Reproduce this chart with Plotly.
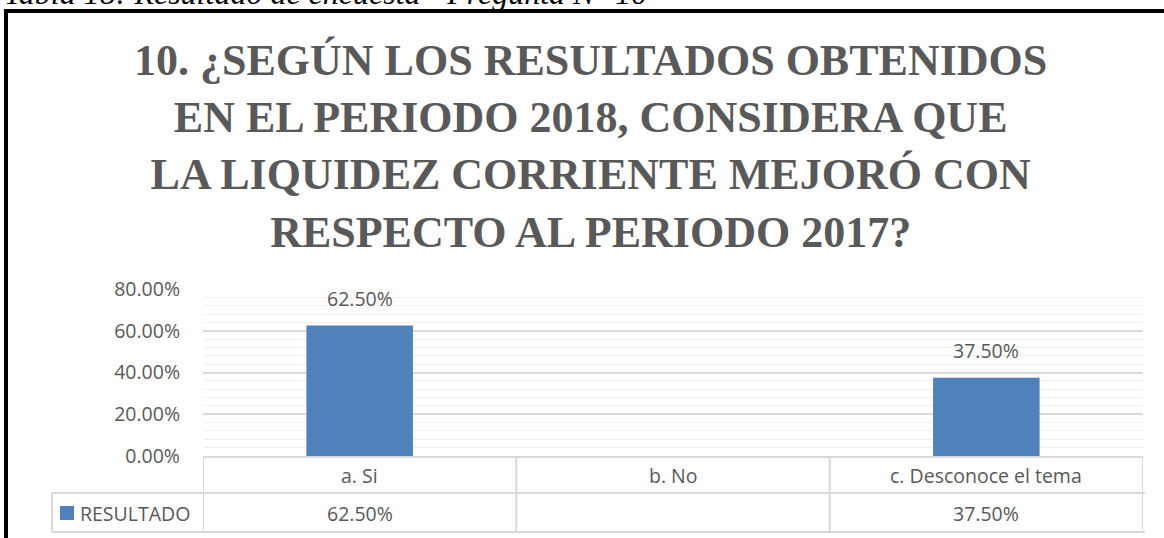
import plotly.graph_objects as go

# ---- data ----
categories = ["a. Si", "b. No", "c. Desconoce el tema"]
values = [0.625, None, 0.375]
series_name = "RESULTADO"
title_lines = [
    "10. ¿SEGÚN LOS RESULTADOS OBTENIDOS",
    "EN EL PERIODO 2018, CONSIDERA QUE",
    "LA LIQUIDEZ CORRIENTE MEJORÓ CON",
    "RESPECTO AL PERIODO 2017?",
]
caption = "Tabla 18: Resultado de encuesta - Pregunta N° 10"
y_ticks = [0, 0.2, 0.4, 0.6, 0.8]

# ---- layout geometry ----
W, H = 1164, 538
L, R, T, B = 203, 21, 289, 82
PW, PH = W - L - R, H - T - B


def xp(px):
    return (px - L) / PW


def yp(py):
    return (H - B - py) / PH


BAR = "#4F81BD"
GREY = "#595959"
TBL = "#d9d9d9"
FONT = "Open Sans"
FS = 19.5

fig = go.Figure()
fig.add_trace(go.Bar(
    x=categories,
    y=[v if v is not None else 0 for v in values],
    name=series_name,
    marker=dict(color=BAR, line=dict(width=0)),
    showlegend=False,
    hoverinfo="skip",
))

ann = []
# data labels above bars
for c, v in zip(categories, values):
    if v is not None:
        ann.append(dict(x=c, y=v, xref="x", yref="y", text=f"{v*100:.2f}%",
                        showarrow=False, yanchor="bottom", yshift=12,
                        font=dict(family=FONT, size=FS, color=GREY)))
# table: category row and values row
for c, v in zip(categories, values):
    ann.append(dict(x=c, y=yp(475), xref="x", yref="paper", text=c,
                    showarrow=False, yanchor="middle",
                    font=dict(family=FONT, size=FS, color=GREY)))
    ann.append(dict(x=c, y=yp(513), xref="x", yref="paper",
                    text=(f"{v*100:.2f}%" if v is not None else ""),
                    showarrow=False, yanchor="middle",
                    font=dict(family=FONT, size=FS, color=GREY)))
# legend label in table
ann.append(dict(x=xp(78), y=yp(513), xref="paper", yref="paper", text=series_name,
                showarrow=False, xanchor="left", yanchor="middle",
                font=dict(family=FONT, size=FS, color=GREY)))
# title
ann.append(dict(x=xp(590), y=yp(34), xref="paper", yref="paper",
                text="<br>".join(title_lines), showarrow=False,
                xanchor="center", yanchor="top", align="center",
                font=dict(family="Liberation Serif", size=44, color=GREY, weight="bold")))
# caption (cut off at top)
ann.append(dict(x=xp(2), y=yp(13), xref="paper", yref="paper", text=f"<i>{caption}</i>",
                showarrow=False, xanchor="left", yanchor="bottom",
                font=dict(family="Liberation Serif", size=32, color="#000000")))

shapes = []
# chart border
shapes.append(dict(type="rect", xref="paper", yref="paper",
                   x0=xp(6), x1=xp(1200), y0=yp(11), y1=yp(600),
                   line=dict(color="#000000", width=4), layer="above"))
# table horizontal lines
shapes.append(dict(type="line", xref="x", yref="paper", x0=-0.5, x1=2.5,
                   y0=yp(457), y1=yp(457), line=dict(color=TBL, width=2)))
for py in (493, 532):
    shapes.append(dict(type="line", xref="paper", yref="paper", x0=xp(52), x1=xp(1145),
                       y0=yp(py), y1=yp(py), line=dict(color=TBL, width=2)))
# table vertical lines
shapes.append(dict(type="line", xref="paper", yref="paper", x0=xp(52), x1=xp(52),
                   y0=yp(493), y1=yp(532), line=dict(color=TBL, width=2)))
for i in range(len(categories) + 1):
    shapes.append(dict(type="line", xref="x", yref="paper", x0=i - 0.5, x1=i - 0.5,
                       y0=yp(457), y1=yp(532), line=dict(color=TBL, width=2)))
# legend key
shapes.append(dict(type="rect", xref="paper", yref="paper", x0=xp(60), x1=xp(74),
                   y0=yp(506), y1=yp(520), fillcolor=BAR, line=dict(width=0)))

fig.update_layout(
    width=W, height=H,
    margin=dict(l=L, r=R, t=T, b=B, pad=0),
    paper_bgcolor="white", plot_bgcolor="white",
    bargap=0.66,
    hovermode=False,
    annotations=ann, shapes=shapes,
    xaxis=dict(range=[-0.5, 2.5], showticklabels=False, showgrid=False,
               zeroline=False, showline=False, ticks=""),
    yaxis=dict(range=[0, 0.8], tickvals=y_ticks, tickformat=".2%",
               showgrid=True, gridcolor=TBL, gridwidth=1.5,
               zeroline=False, showline=False, ticks="",
               ticklabelstandoff=22,
               tickfont=dict(family=FONT, size=FS, color=GREY),
               minor=dict(dtick=0.04, tick0=0, showgrid=True,
                          gridcolor="#efefef", gridwidth=1)),
)

fig.write_html(
    "out.html",
    config={"displayModeBar": False},
    post_script="document.body.style.margin='0';document.body.style.overflow='hidden';",
)
